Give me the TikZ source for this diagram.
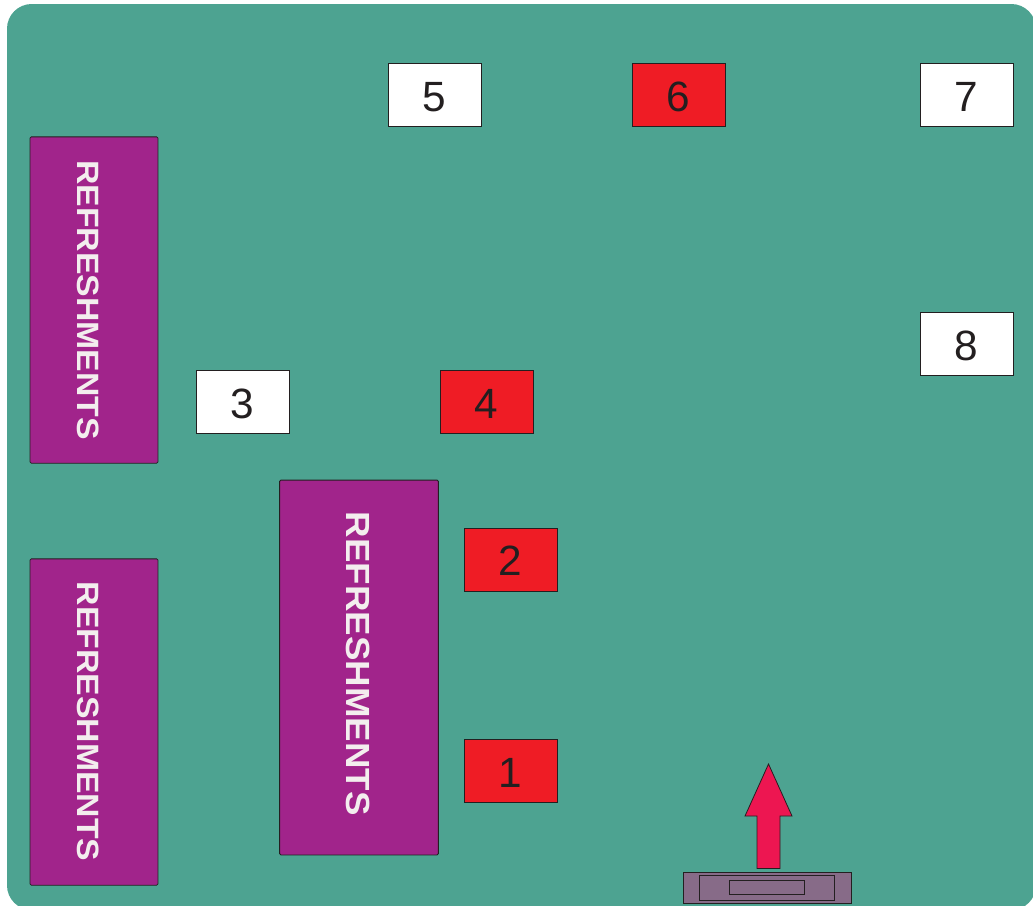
\documentclass[tikz,border=0pt]{standalone}
\usepackage{fontspec}
\setmainfont{Liberation Sans}
\tikzset{
  px/.style={x=0.567pt, y=-0.567pt},
  edgeline/.style={draw=inkD, line width=0.45pt},
  booth/.style={edgeline, minimum width=52.8pt, minimum height=35.4pt, inner sep=0pt, text=inkD, text height=18.4pt, text depth=0pt, font=\fontsize{24}{24}\selectfont},
  whitebooth/.style={booth, fill=white},
  redbooth/.style={booth, fill=boothR},
  tablebox/.style={edgeline, fill=tableP, rounded corners=0.7pt, inner sep=0pt},
  tabletext/.style={inner sep=0pt, rotate=-90, anchor=base, text=tableT},
  smalltext/.style={tabletext, font=\fontsize{17.5}{19}\selectfont\bfseries\addfontfeature{FakeStretch=1.095}},
  largetext/.style={tabletext, font=\fontsize{19}{21}\selectfont\bfseries\addfontfeature{FakeStretch=1.095}},
  stagebox/.style={draw=inkD, line width=0.5pt, fill=stageP, inner sep=0pt},
}
\definecolor{floorG}{RGB}{77,163,145}
\definecolor{inkD}{RGB}{35,31,32}
\definecolor{boothR}{RGB}{239,28,37}
\definecolor{tableP}{RGB}{161,36,139}
\definecolor{tableT}{RGB}{243,238,238}
\definecolor{arrowR}{RGB}{237,22,81}
\definecolor{stageP}{RGB}{135,107,136}

\begin{document}
\begin{tikzpicture}[px]
  \useasboundingbox (0,0) rectangle (1033,905);
  % floor
  \fill[floorG, rounded corners=14pt] (7,4) rectangle (1036,910);
  % refreshment tables
  \node[tablebox, minimum width=72.5pt, minimum height=185pt] (tableA) at (94,300) {};
  \node[tablebox, minimum width=72.5pt, minimum height=185pt] (tableB) at (94,722) {};
  \node[tablebox, minimum width=90pt, minimum height=212.5pt] (tableC) at (359,667.5) {};
  \node[smalltext] (labelA) at (77.3,300) {REFRESHMENTS};
  \node[smalltext] (labelB) at (77.3,721.5) {REFRESHMENTS};
  \node[largetext] (labelC) at (346,663.8) {REFRESHMENTS};
  % booths
  \node[redbooth] (booth1) at (510.7,771) {1};
  \node[redbooth] (booth2) at (510.7,559.7) {2};
  \node[whitebooth] (booth3) at (242.7,402) {3};
  \node[redbooth] (booth4) at (486.5,402) {4};
  \node[whitebooth] (booth5) at (434.7,95) {5};
  \node[redbooth] (booth6) at (678.5,95) {6};
  \node[whitebooth] (booth7) at (966.5,95) {7};
  \node[whitebooth] (booth8) at (966.5,344) {8};
  % stage
  \node[stagebox, minimum width=95.2pt, minimum height=17.5pt] (stageO) at (767.2,887.5) {};
  \node[stagebox, minimum width=77pt, minimum height=14pt] (stageM) at (767,888) {};
  \node[stagebox, minimum width=43pt, minimum height=8pt] (stageI) at (767,887.5) {};
  % arrow
  \draw[edgeline, fill=arrowR] (768.5,764) -- (792,816) -- (780,816) -- (780,868.5)
    -- (757,868.5) -- (757,816) -- (745,816) -- cycle;
\end{tikzpicture}
\end{document}
